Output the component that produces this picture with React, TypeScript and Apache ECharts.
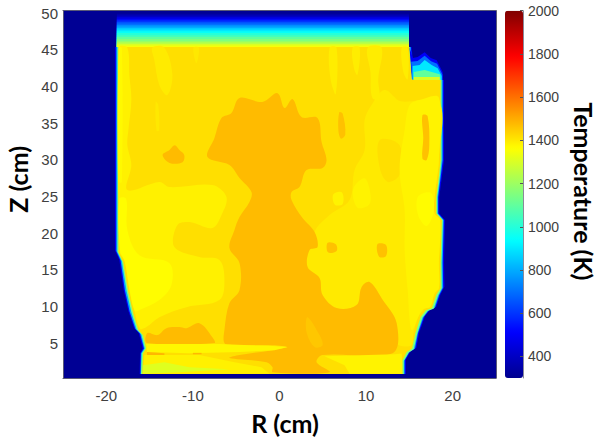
import React, { useEffect, useRef } from "react";
import * as echarts from "echarts";

type Pt = number[];

const rTicks = [-20, -10, 0, 10, 20];
const zTicks = [5, 10, 15, 20, 25, 30, 35, 40, 45, 50];
const tempTicks = [400, 600, 800, 1000, 1200, 1400, 1600, 1800, 2000];
const jet = ["#00008f", "#0000ff", "#007fff", "#00ffff", "#7fff7f", "#ffff00", "#ff7f00", "#ff0000", "#800000"];

const rRange = [-25, 25];
const zRange = [0.27, 50.35];
const tRange = [300, 2000];

const ambient: Pt[] = [[-25, 0.27], [25, 0.27], [25, 50.35], [-25, 50.35]];

const edge500: Pt[] = [[-19, 45.4], [15.25, 45.4], [15.6, 41], [19, 40.9], [19, 30], [18.75, 27.7], [18.45, 24.9], [18.45, 22.7], [19.1, 21.8], [19, 16], [19.05, 12.7], [18.6, 11.7], [18.1, 10], [17.4, 9.6], [16.8, 8.7], [16.15, 6.5], [15.8, 4.4], [15.15, 3.9], [14.6, 2.8], [14.6, 0.8], [-16.15, 0.8], [-16.1, 3.65], [-15.8, 4.3], [-16.25, 6.4], [-16.8, 7.1], [-17.45, 9.4], [-18, 12.3], [-18.5, 16.4], [-19, 17.7]];
const edge800: Pt[] = [[-18.85, 45.4], [15.15, 45.4], [15.5, 41], [18.85, 40.9], [18.85, 30], [18.62, 27.7], [18.32, 24.9], [18.32, 22.7], [18.97, 21.8], [18.85, 16], [18.9, 12.6], [18.45, 11.6], [17.95, 9.85], [17.25, 9.5], [16.65, 8.6], [16, 6.4], [15.65, 4.3], [15, 3.8], [14.45, 2.7], [14.45, 0.8], [-16.05, 0.8], [-16, 3.65], [-15.65, 4.3], [-16.1, 6.3], [-16.65, 7], [-17.3, 9.3], [-17.85, 12.2], [-18.35, 16.3], [-18.85, 17.6]];
const edge1150: Pt[] = [[-18.72, 45.4], [15.05, 45.4], [15.4, 41], [18.72, 40.9], [18.72, 30], [18.52, 27.7], [18.22, 24.9], [18.22, 22.7], [18.87, 21.8], [18.72, 16], [18.75, 12.5], [18.3, 11.5], [17.8, 9.7], [17.1, 9.4], [16.5, 8.5], [15.9, 6.3], [15.5, 4.2], [14.9, 3.7], [14.35, 2.6], [14.35, 0.8], [-16, 0.8], [-15.9, 3.65], [-15.55, 4.3], [-15.95, 6.2], [-16.5, 6.9], [-17.1, 9.2], [-17.65, 12.1], [-18.2, 16.2], [-18.72, 17.5]];

const topTemps = [350, 400, 450, 500, 550, 600, 650, 700, 750, 800, 850, 900, 950, 1000, 1050, 1100, 1150, 1200, 1250, 1300, 1350];
const topHeights = [49.95, 49.7, 49.5, 49.3, 49.15, 49, 48.8, 48.6, 48.4, 48.2, 48, 47.8, 47.55, 47.3, 47, 46.75, 46.5, 46.2, 46, 45.8, 45.6];
const topSpan = [-18.78, 14.95];

const notch500: Pt[] = [[15, 45.4], [15.4, 43.9], [15.95, 44.04], [16.76, 44.7], [17.46, 43.9], [18.15, 43.6], [18.84, 42], [18.9, 40.9], [15.3, 40.9]];
const notch700: Pt[] = [[15.2, 43.4], [15.95, 43.5], [16.76, 44.2], [17.5, 43.45], [18.2, 43.1], [18.8, 41.7], [18.8, 40.9], [15.35, 40.9]];
const notch900: Pt[] = [[15.37, 42.8], [16.18, 42.95], [16.76, 43.63], [17.57, 42.95], [18.26, 42.5], [18.73, 41.44], [18.73, 40.9], [15.37, 40.9]];
const notch1100: Pt[] = [[15.5, 42], [16.76, 42.26], [18.5, 41.7], [18.6, 40.9], [15.5, 40.9]];
const notch1300: Pt[] = [[15.5, 41.3], [18.5, 41.3], [18.5, 40.9], [15.5, 40.9]];

const body: Pt[] = [[-18.6, 45.4], [14.95, 45.4], [15.25, 41], [15.5, 40.9], [18.6, 40.9], [18.6, 30], [18.4, 27.7], [18.1, 24.9], [18.1, 22.7], [18.75, 21.8], [18.6, 16], [18.6, 12.5], [18.1, 11.6], [17.6, 9.8], [16.9, 9.5], [16.3, 8.6], [15.7, 6.4], [15.3, 4.3], [14.7, 3.8], [14.2, 2.7], [14.2, 0.8], [-15.84, 0.8], [-15.75, 3.65], [-15.4, 4.3], [-15.75, 6.1], [-16.3, 6.8], [-16.9, 9.1], [-17.47, 12], [-18.05, 16.1], [-18.6, 17.4]];

const leftLight: Pt[] = [[-18.55, 45.3], [-17.57, 45.3], [-17.34, 41.58], [-17.11, 38.17], [-17.45, 34.08], [-17.57, 32.03], [-17.11, 29.3], [-17.57, 25.89], [-13.87, 26.99], [-12.72, 26.3], [-7.75, 26.58], [-6.13, 24.94], [-6.7, 22.48], [-7.75, 20.71], [-10.4, 21.53], [-11.79, 21.12], [-12.14, 18.12], [-9.25, 16.76], [-6.94, 16.35], [-6.36, 13.62], [-6.94, 10.89], [-10.75, 9.93], [-13.87, 8.57], [-15.37, 7.21], [-16.1, 7], [-16.7, 9.2], [-17.27, 12], [-17.85, 16.1], [-18.45, 17.6]];
const leftBright: Pt[] = [[-18.5, 24.7], [-17.7, 24.7], [-17.57, 20.44], [-16.18, 17], [-12.72, 15.94], [-12.48, 12.94], [-13.87, 10.89], [-16.18, 9.53], [-16.7, 9.4], [-17.27, 12], [-17.85, 16.1], [-18.4, 17.6]];
const leftEdgeStrip: Pt[] = [[-18.55, 45.3], [-18.2, 45.3], [-18.2, 27], [-18.55, 27]];
const leftStreakA: Pt[] = [[-14.68, 45.3], [-13.29, 45.3], [-12.37, 41.58], [-12.95, 38.85], [-13.87, 40.2], [-14.45, 43.63]];
const leftStreakB: Pt[] = [[-9.95, 45.3], [-9.3, 45.3], [-9.6, 43.2]];
const leftStreakC: Pt[] = [[-14.3, 37.9], [-14, 37.5], [-13.9, 34], [-14.2, 34]];

const rightWide: Pt[] = [[12.14, 39.53], [14, 38], [18.4, 38], [18.4, 30], [18.2, 27.7], [17.9, 24.9], [17.9, 22.7], [18.55, 21.8], [18.4, 16], [18.4, 12.5], [17.9, 11.8], [17.4, 10], [16.7, 9.7], [16.1, 8.8], [15.5, 6.6], [15.2, 4.7], [13.5, 5], [13.53, 7.75], [11.79, 11.16], [10.4, 13.35], [9.48, 12.66], [8.9, 10.21], [6.59, 9.8], [4.97, 11.57], [4.62, 13.89], [3.24, 15.39], [3.47, 17.71], [4.39, 18.12], [4.05, 20.17], [5.78, 22.48], [8.09, 24.53], [8.67, 28.62], [9.83, 31.35], [9.83, 35.44], [10.64, 37.49]];
const rightGold: Pt[] = [[11.56, 32.7], [13.87, 32], [13.87, 28], [12.5, 27], [11.56, 29]];
const rightEdge: Pt[] = [[15.03, 37.49], [16.18, 38.17], [18.4, 38.5], [18.4, 30], [18.2, 27.7], [17.9, 24.9], [17.9, 22.7], [18.55, 21.8], [18.4, 16], [18.4, 12.5], [17.9, 11.8], [17.4, 10], [16.7, 9.7], [16.1, 8.8], [15.26, 6.8], [14.8, 12.25], [14.45, 17.71], [14.45, 23.17], [13.87, 28.62], [14.45, 34.08]];
const rightBright: Pt[] = [[16, 25], [17.5, 25.5], [17.8, 23], [17, 21], [16, 22.5]];
const rightStreakA: Pt[] = [[5.78, 45.3], [6.59, 45.3], [6.5, 39], [5.9, 41]];
const rightStreakB: Pt[] = [[8.44, 45.3], [9.25, 45.3], [9, 41.6], [8.6, 42.5]];
const rightStreakC: Pt[] = [[10.17, 45.3], [11.79, 45.3], [11.4, 41], [11.56, 38.2], [10.7, 38.5], [10.5, 42]];
const rightStreakD: Pt[] = [[14.1, 45.3], [14.8, 45.3], [14.8, 41], [14.3, 42]];
const midPatchA: Pt[] = [[8.5, 26], [9.8, 27.5], [10.4, 26], [10.4, 24], [9, 23.5]];
const midPatchB: Pt[] = [[6.2, 25.3], [7.2, 25.6], [7.3, 24], [6.4, 23.9]];
const bottomRight: Pt[] = [[5.2, 3.25], [13.29, 3.52], [14.1, 3.6], [14.15, 2.71], [14.15, 0.85], [8.09, 0.85], [7.51, 2.02]];

const core: Pt[] = [[-8.32, 30.39], [-7.51, 33], [-6.7, 35.71], [-5.55, 36.4], [-4.62, 38.44], [-1.97, 37.9], [-0.23, 39.1], [0.58, 37.08], [1.5, 38.3], [2.54, 35.85], [4.39, 35.71], [4.86, 32.44], [5.43, 29.99], [4.97, 28.9], [3.12, 28.62], [2.31, 26.3], [1.39, 25.62], [1.39, 24.53], [2.66, 22.07], [4.05, 20.17], [4.39, 18.12], [3.47, 17.71], [3.24, 15.39], [4.62, 13.89], [4.97, 11.57], [6.59, 9.8], [8.9, 10.21], [9.48, 12.66], [10.4, 13.35], [11.79, 11.16], [13.53, 7.75], [13.06, 3.66], [4.97, 3.39], [4.28, 2.43], [5.78, 1.07], [-0.81, 1.07], [-0.81, 1.75], [-1.5, 2.43], [-5.78, 2.98], [-4.62, 3.39], [-0.81, 4.07], [0.92, 4.48], [-0.81, 4.75], [-5.43, 4.75], [-6.36, 5.03], [-6.36, 6.8], [-5.78, 10.48], [-4.62, 12.25], [-4.62, 15.94], [-5.78, 17.98], [-5.2, 20.44], [-4.62, 22.21], [-3.47, 24.26], [-3.24, 25.62], [-4.62, 27.53], [-5.78, 29.3]];
const coreStreak: Pt[] = [[3.24, 8.57], [4.62, 6.12], [4.97, 4.75], [4.05, 4.48], [3.12, 6.53]];
const lowerLeftCore: Pt[] = [[-15.3, 5.03], [-15.26, 6.39], [-14.1, 6.12], [-13.06, 7.07], [-11.56, 7.21], [-10.75, 7.07], [-9.25, 7.75], [-7.75, 5.84], [-7.51, 5.03]];
const blobLeft: Pt[] = [[-13.5, 30.67], [-12.7, 31.35], [-12.1, 32], [-11.56, 31.35], [-11, 30.67], [-11.2, 29.7], [-12.7, 29.6]];
const dotA: Pt[] = [[5.55, 18.7], [6.5, 18.5], [6.6, 17.6], [5.6, 17.4]];
const dotB: Pt[] = [[11.3, 18.5], [12.3, 18.4], [12.3, 16.9], [11.5, 16.8]];
const dotC: Pt[] = [[6.9, 36.5], [7.3, 36.3], [7.6, 33.5], [7.1, 32.9], [6.8, 34]];
const dotD: Pt[] = [[16.5, 36.1], [17.1, 36], [17.3, 32], [17, 30], [16.5, 30.2], [16.6, 33]];

const stripUpper: Pt[] = [[-15.4, 4.89], [-6.94, 4.89], [-0.81, 4.62], [0.92, 4.48], [-0.58, 4.07], [-4.62, 3.8], [-10.4, 3.66], [-15.3, 3.8]];
const stripLower: Pt[] = [[-15.6, 3.39], [-9.25, 3.39], [-5.2, 2.43], [-2.08, 1.75], [-1.16, 0.85], [-15.75, 0.85]];
const stripGreen: Pt[] = [[-15.75, 2.02], [-13.29, 2.43], [-10.4, 1.75], [-5.78, 1.48], [-11.56, 1.07], [-15.75, 0.85]];
const streakHotA: Pt[] = [[-15.3, 3.8], [-13.29, 3.66], [-13.29, 3.39], [-15.3, 3.39]];
const streakHotB: Pt[] = [[-10, 3.7], [-9, 3.7], [-9, 3.5], [-10, 3.5]];

const topStrips: [number, Pt[]][] = topTemps.map((t, i) => [
  t,
  [[topSpan[0], topHeights[i]], [topSpan[1], topHeights[i]], [topSpan[1], 45.4], [topSpan[0], 45.4]],
]);

const hardRegions: [number, Pt[]][] = [
  [310, ambient],
  [500, edge500], [800, edge800], [1150, edge1150],
  ...topStrips,
  [500, notch500], [700, notch700], [900, notch900], [1100, notch1100], [1300, notch1300],
  [1415, body],
];
const softRegions: [number, Pt[]][] = [
  [1385, leftLight], [1365, leftBright], [1372, leftEdgeStrip],
  [1395, leftStreakA], [1400, leftStreakB], [1400, leftStreakC],
  [1398, rightWide], [1415, rightGold], [1383, rightEdge], [1368, rightBright],
  [1392, rightStreakA], [1392, rightStreakB], [1392, rightStreakC], [1392, rightStreakD],
  [1383, midPatchA], [1383, midPatchB],
  [1475, core], [1455, coreStreak], [1475, lowerLeftCore], [1475, blobLeft],
  [1465, dotA], [1465, dotB], [1465, dotC], [1465, dotD],
];
const crispRegions: [number, Pt[]][] = [
  [1383, bottomRight], [1375, stripUpper], [1385, stripLower], [1310, stripGreen], [1480, streakHotA], [1480, streakHotB],
];
const regions = [...hardRegions, ...softRegions, ...crispRegions];
const softStart = hardRegions.length;
const softEnd = softStart + softRegions.length;

const GRID_TOP = 10.7;
const GRID_H = 367.3;
const frame = "#5a5a78";
const tickFont = { color: "#404040", fontFamily: "Liberation Sans", fontSize: 15 };
const nameFont = { color: "#000", fontFamily: "Lato", fontWeight: "bold" as const, fontSize: 25 };
const plain = (v: number) => String(v);

export default function App() {
  const ref = useRef<HTMLDivElement>(null);
  useEffect(() => {
    const chart = echarts.init(ref.current!, null, { renderer: "svg" });
    chart.setOption({
      animation: false,
      backgroundColor: "#fff",
      grid: [
        { left: 63, top: GRID_TOP, width: 433, height: GRID_H, outerBoundsMode: "none" },
        { left: 505, top: GRID_TOP, width: 18, height: GRID_H, outerBoundsMode: "none" },
      ],
      xAxis: [
        {
          type: "value", gridIndex: 0, min: rRange[0], max: rRange[1], z: 5,
          axisLine: { onZero: false, lineStyle: { color: frame, width: 1 } }, axisTick: { show: false }, splitLine: { show: false },
          axisLabel: { ...tickFont, margin: 10, customValues: rTicks, formatter: plain },
          name: "R (cm)", nameLocation: "middle", nameGap: 32, nameTextStyle: { ...nameFont, padding: [0, 0, 0, 11] },
        },
        {
          type: "value", gridIndex: 0, position: "top", min: rRange[0], max: rRange[1], z: 5,
          axisLine: { onZero: false, lineStyle: { color: frame, width: 1 } }, axisTick: { show: false }, axisLabel: { show: false }, splitLine: { show: false },
        },
        {
          type: "value", gridIndex: 1, min: 0, max: 1, show: false,
        },
      ],
      yAxis: [
        {
          type: "value", gridIndex: 0, min: zRange[0], max: zRange[1], z: 5,
          axisLine: { onZero: false, lineStyle: { color: frame, width: 1 } }, axisTick: { show: false }, splitLine: { show: false },
          axisLabel: { ...tickFont, margin: 5, customValues: zTicks, formatter: plain },
          name: "Z (cm)", nameLocation: "middle", nameGap: 28, nameTextStyle: { ...nameFont, padding: [0, 0, 0, 30] },
        },
        {
          type: "value", gridIndex: 0, position: "right", min: zRange[0], max: zRange[1], z: 5,
          axisLine: { onZero: false, lineStyle: { color: frame, width: 1 } }, axisTick: { show: false }, axisLabel: { show: false }, splitLine: { show: false },
        },
        {
          type: "value", gridIndex: 1, position: "right", min: tRange[0], max: tRange[1], z: 5,
          axisLine: { onZero: false, lineStyle: { color: "#8a8a9a", width: 1 } },
          axisTick: { inside: true, length: 3, lineStyle: { color: "#555" }, customValues: tempTicks },
          splitLine: { show: false },
          axisLabel: { ...tickFont, fontSize: 14, margin: 5, customValues: tempTicks, formatter: plain },
          name: "Temperature (K)", nameLocation: "middle", nameGap: 48, nameRotate: -90, nameTextStyle: { ...nameFont, padding: [0, 6, 0, 0] },
        },
      ],
      visualMap: {
        type: "continuous", seriesIndex: 0, dimension: 0, min: tRange[0], max: tRange[1],
        left: 505, top: GRID_TOP, itemWidth: 18, itemHeight: GRID_H, padding: 0,
        calculable: false, realtime: false, showLabel: false,
        inRange: { color: jet },
      },
      series: [
        {
          type: "custom", coordinateSystem: "cartesian2d", xAxisIndex: 0, yAxisIndex: 0, silent: true, clip: true,
          encode: { x: 1, y: 2 },
          data: regions.map((r, i) => [r[0], 0, i + 1]),
          renderItem: (params: any, api: any) => {
            const pts = regions[params.dataIndex][1];
            const soft = params.dataIndex >= softStart && params.dataIndex < softEnd;
            return {
              type: "polygon",
              shape: { points: pts.map((p) => api.coord(p)), smooth: soft ? 0.35 : 0 },
              style: { fill: api.visual("color"), stroke: null },
            };
          },
        },
      ],
    });
    return () => chart.dispose();
  }, []);
  return <div ref={ref} style={{ position: "fixed", left: 0, top: 0, width: 600, height: 442 }} />;
}
